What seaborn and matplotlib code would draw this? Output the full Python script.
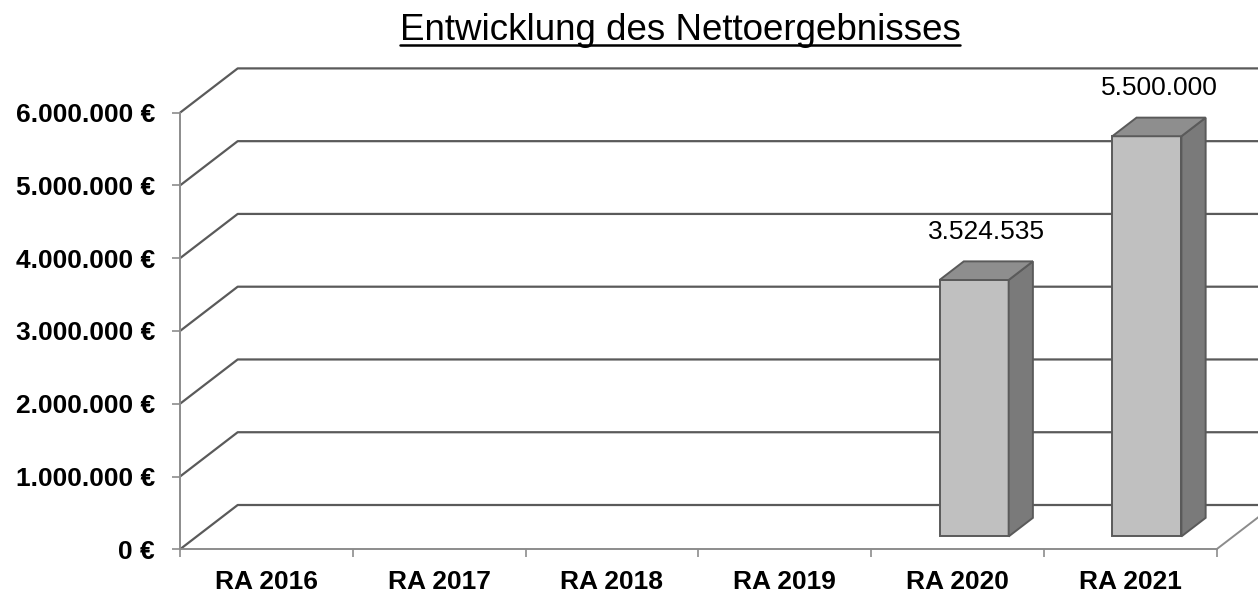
import matplotlib
matplotlib.use("Agg")
import matplotlib.pyplot as plt
from matplotlib.patches import Polygon
from matplotlib.lines import Line2D
from matplotlib.transforms import Affine2D
import seaborn as sns
import pandas as pd

categories = ["RA 2016", "RA 2017", "RA 2018", "RA 2019", "RA 2020", "RA 2021"]
values = [0, 0, 0, 0, 3524535, 5500000]
yticks = [0, 1000000, 2000000, 3000000, 4000000, 5000000, 6000000]
title = "Entwicklung des Nettoergebnisses"

sns.set_theme(style="white")
plt.rcParams["font.family"] = ["Liberation Sans", "DejaVu Sans"]
plt.rcParams["text.color"] = "black"
plt.rcParams["xtick.labelcolor"] = "black"
plt.rcParams["ytick.labelcolor"] = "black"

W, H = 1258, 593
fig = plt.figure(figsize=(W / 100, H / 100), dpi=100)
ax = fig.add_axes([180 / W, (H - 549.3) / H, 1036.5 / W, 436.6 / H])

df = pd.DataFrame({"cat": categories, "value": values})
sns.barplot(data=df, x="cat", y="value", color="#c0c0c0", saturation=1,
            edgecolor="#5a5a5a", linewidth=1.4, width=0.4, ax=ax, zorder=4)

ax.set_xlim(-0.5, len(categories) - 0.5)
ax.set_ylim(0, 6000000)

# depth vector (data units)
DX = 0.334
DY = 608800
f1, f2 = 0.29, 0.71

grid_c = "#5a5a5a"
axis_c = "#8c8c8c"
x0, x1 = -0.5, len(categories) - 0.5
for v in yticks:
    ax.plot([x0, x0 + DX, x1 + DX], [v, v + DY, v + DY], color=grid_c,
            lw=1.6, clip_on=False, zorder=1, solid_capstyle="butt")
# right floor edge
ax.plot([x1, x1 + DX], [0, DY], color=axis_c, lw=1.4, clip_on=False, zorder=1)

for sp in ["top", "right"]:
    ax.spines[sp].set_visible(False)
for sp in ["left", "bottom"]:
    ax.spines[sp].set_color(axis_c)
    ax.spines[sp].set_linewidth(1.4)
    ax.spines[sp].set_zorder(2)

ax.set_yticks(yticks)
ax.set_yticklabels([f"{v:,.0f} €".replace(",", ".") for v in yticks],
                   fontsize=19, fontweight="bold", color="black")
ax.set_xticks([i - 0.5 for i in range(len(categories) + 1)])
ax.set_xticklabels([])
ax.set_xticks(range(len(categories)), minor=True)
ax.set_xticklabels(categories, minor=True, fontsize=19, fontweight="bold",
                   color="black")
ax.tick_params(axis="y", which="major", length=5.5, width=1.2, color=axis_c,
               direction="out", pad=12.5, left=True)
ax.tick_params(axis="x", which="major", length=5.5, width=1.2, color=axis_c,
               direction="out", bottom=True)
ax.tick_params(axis="x", which="minor", length=0, pad=15)
ax.set_xlabel("")
ax.set_ylabel("")
ax.grid(False)

front_c = "#c0c0c0"
top_c = "#8e8e8e"
side_c = "#7a7a7a"
edge_c = "#5a5a5a"

for p, v in zip(ax.patches, values):
    h = p.get_height()
    if not h:
        p.set_visible(False)
        continue
    p.set_transform(Affine2D().translate(f1 * DX, f1 * DY) + ax.transData)
    bx, w = p.get_x(), p.get_width()
    side = [(bx + w + f1 * DX, f1 * DY), (bx + w + f2 * DX, f2 * DY),
            (bx + w + f2 * DX, h + f2 * DY), (bx + w + f1 * DX, h + f1 * DY)]
    top = [(bx + f1 * DX, h + f1 * DY), (bx + w + f1 * DX, h + f1 * DY),
           (bx + w + f2 * DX, h + f2 * DY), (bx + f2 * DX, h + f2 * DY)]
    ax.add_patch(Polygon(side, closed=True, facecolor=side_c, edgecolor=edge_c,
                         lw=1.4, zorder=4, clip_on=False, joinstyle="miter"))
    ax.add_patch(Polygon(top, closed=True, facecolor=top_c, edgecolor=edge_c,
                         lw=1.4, zorder=4, clip_on=False, joinstyle="miter"))
    ax.annotate(f"{v:,.0f}".replace(",", "."),
                xy=(bx + w / 2 + (f1 + f2) / 2 * DX, h + f2 * DY),
                xytext=(0, 16), textcoords="offset points",
                ha="center", va="baseline", fontsize=19, color="black",
                annotation_clip=False)

t = fig.text(680 / W, (H - 39.5) / H, title, ha="center", va="baseline",
             fontsize=26.5, color="black")
fig.canvas.draw()
bb = t.get_window_extent(fig.canvas.get_renderer())
uy = H - 45
fig.add_artist(Line2D([bb.x0 / W, bb.x1 / W], [uy / H, uy / H],
                      transform=fig.transFigure, color="black", lw=1.8))

fig.savefig("out.png", dpi=100)
